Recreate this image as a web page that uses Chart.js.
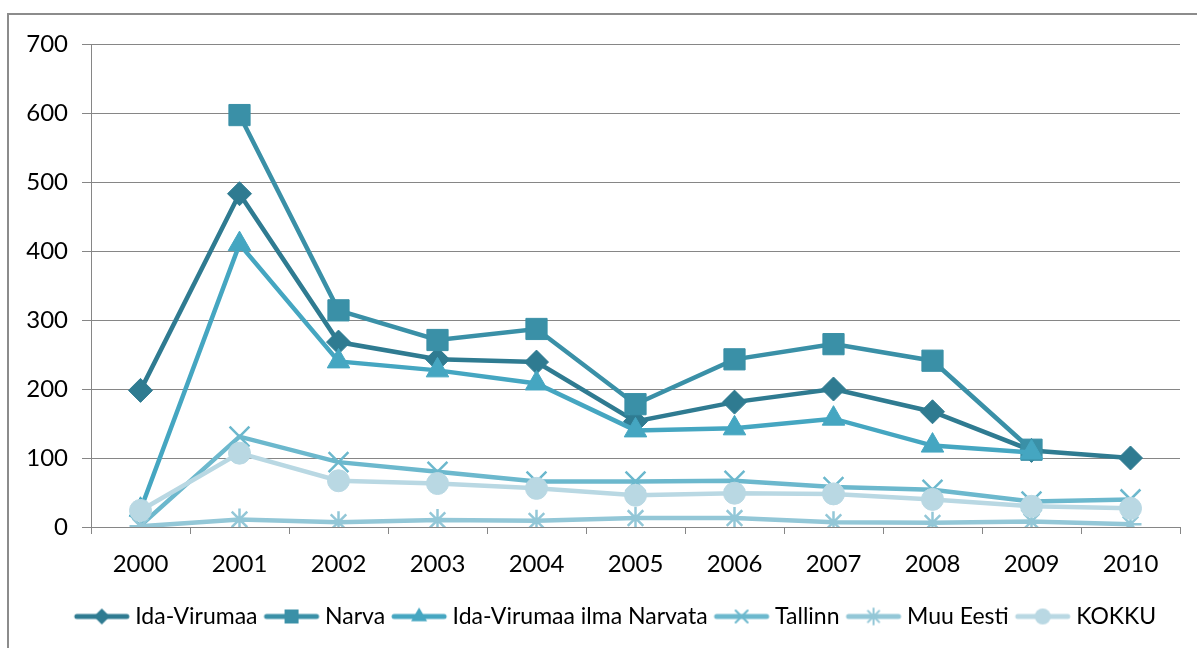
<!DOCTYPE html>
<html>
<head>
<meta charset="utf-8">
<script src="https://cdn.jsdelivr.net/npm/chart.js@4/dist/chart.umd.min.js"></script>
<style>
html,body{margin:0;padding:0;background:#fff;}
#wrap{position:relative;width:1197px;height:648px;overflow:hidden;}
#frame{position:absolute;left:7px;top:13px;width:1300px;height:800px;border-left:2px solid #8c8c8c;border-top:2px solid #8c8c8c;pointer-events:none;}
canvas{position:absolute;left:0;top:0;}
</style>
</head>
<body>
<div id="wrap">
<canvas id="c" width="1197" height="648"></canvas>
<div id="frame"></div>
</div>
<script>
const years = ['2000','2001','2002','2003','2004','2005','2006','2007','2008','2009','2010'];
const idaVirumaa = [198, 483, 268, 243, 239, 153, 181, 200, 167, 111, 100];
const narva = [null, 597, 314, 271, 287, 178, 243, 265, 241, 112, null];
const idaIlmaNarvata = [25, 410, 240, 227, 208, 140, 143, 157, 118, 108, null];
const tallinn = [2, 131, 94, 80, 66, 66, 67, 58, 54, 37, 40];
const muuEesti = [1, 11, 7, 10, 9, 13, 13, 7, 6, 8, 4];
const kokku = [24, 107, 67, 63, 56, 46, 49, 48, 40, 30, 27];
const yTicks = [0, 100, 200, 300, 400, 500, 600, 700];

const seriesNames = ['Ida-Virumaa', 'Narva', 'Ida-Virumaa ilma Narvata', 'Tallinn', 'Muu Eesti', 'KOKKU'];
const seriesData = [idaVirumaa, narva, idaIlmaNarvata, tallinn, muuEesti, kokku];
const colors = ['#2f7b91', '#3a90a7', '#45a6c1', '#6cb8cd', '#93c7d7', '#b9d8e3'];
const styles = ['rectRot', 'rect', 'triangle', 'crossRot', 'star', 'circle'];
const radii = [12, 15, 13, 14, 11, 11];

// legend sample: image wider than its box so the line overhangs toward the text
const IMG_W = 66, BOX_W = 44;
function legendImage(color, style) {
  const w = IMG_W, h = 24;
  const cv = document.createElement('canvas');
  cv.width = w; cv.height = h;
  const g = cv.getContext('2d');
  g.strokeStyle = color; g.fillStyle = color; g.lineWidth = 5; g.lineCap = 'round';
  g.beginPath(); g.moveTo(8, h/2); g.lineTo(w-8, h/2); g.stroke();
  const cx = w/2, cy = h/2, r = 8;
  g.lineWidth = 2;
  g.beginPath();
  if (style === 'rectRot') { g.moveTo(cx, cy-r); g.lineTo(cx+r, cy); g.lineTo(cx, cy+r); g.lineTo(cx-r, cy); g.closePath(); g.fill(); }
  else if (style === 'rect') { g.rect(cx-7, cy-7, 14, 14); g.fill(); }
  else if (style === 'triangle') { g.moveTo(cx, cy-r-1); g.lineTo(cx+r, cy+r*0.6); g.lineTo(cx-r, cy+r*0.6); g.closePath(); g.fill(); }
  else if (style === 'crossRot') { const d = r*0.75; g.moveTo(cx-d, cy-d); g.lineTo(cx+d, cy+d); g.moveTo(cx+d, cy-d); g.lineTo(cx-d, cy+d); g.stroke(); }
  else if (style === 'star') { const d = r*0.7; g.moveTo(cx-d, cy-d); g.lineTo(cx+d, cy+d); g.moveTo(cx+d, cy-d); g.lineTo(cx-d, cy+d); g.moveTo(cx, cy-r); g.lineTo(cx, cy+r); g.stroke(); }
  else if (style === 'circle') { g.arc(cx, cy, 8, 0, Math.PI*2); g.fill(); }
  return cv;
}
const legendImgs = colors.map((c, i) => legendImage(c, styles[i]));

const datasets = seriesNames.map((name, i) => ({
  label: name,
  data: seriesData[i],
  borderColor: colors[i],
  backgroundColor: colors[i],
  borderWidth: 4.5,
  pointStyle: styles[i],
  pointRadius: radii[i],
  pointHoverRadius: radii[i],
  pointBorderWidth: (styles[i] === 'crossRot' || styles[i] === 'star') ? 2.5 : 1,
  pointBorderColor: colors[i],
  pointBackgroundColor: colors[i],
  tension: 0,
  order: 5 - i
}));

const tickFont = {family: 'Lato', size: 24};
const XH = 66;
const LEGEND_SHIFT = 28;

const shiftLegend = {
  id: 'shiftLegend',
  afterLayout(chart) {
    if (chart.legend) { chart.legend.left += LEGEND_SHIFT; chart.legend.right += LEGEND_SHIFT; }
  }
};

const chart = new Chart(document.getElementById('c'), {
  type: 'line',
  data: {labels: years, datasets},
  plugins: [shiftLegend],
  options: {
    responsive: false,
    animation: false,
    layout: {padding: {top: 44, right: 17, left: 0, bottom: 10}},
    plugins: {
      legend: {
        position: 'bottom',
        labels: {
          usePointStyle: true,
          pointStyleWidth: BOX_W,
          boxHeight: 22,
          padding: 12,
          color: '#000',
          font: {family: 'Lato', size: 23},
          generateLabels: (ch) => ch.data.datasets.map((ds, i) => ({
            text: ds.label, datasetIndex: i, pointStyle: legendImgs[i],
            fillStyle: ds.backgroundColor, strokeStyle: ds.borderColor, lineWidth: 0,
            hidden: false, fontColor: '#000'
          }))
        }
      },
      tooltip: {enabled: false}
    },
    scales: {
      x: {
        offset: true,
        grid: {display: true, drawOnChartArea: false, drawTicks: true, tickLength: 7, color: '#868686', offset: true},
        border: {display: true, color: '#868686', width: 1},
        ticks: {font: tickFont, color: '#000', padding: 16, maxRotation: 0},
        afterFit: (s) => { s.height = XH; }
      },
      y: {
        min: 0, max: 700,
        afterBuildTicks: (s) => { s.ticks = yTicks.map(v => ({value: v})); },
        grid: {color: '#868686', tickLength: 9, drawTicks: true},
        border: {display: true, color: '#868686', width: 1},
        ticks: {font: tickFont, color: '#000', padding: 14},
        afterFit: (s) => { s.width = 91; }
      }
    }
  }
});
</script>
</body>
</html>
